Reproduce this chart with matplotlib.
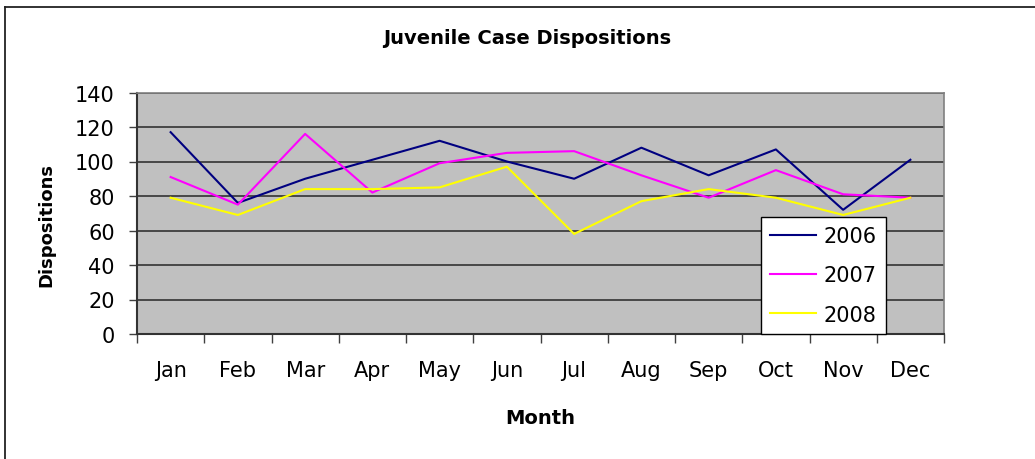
import matplotlib.pyplot as plt
import numpy as np
from matplotlib.lines import Line2D

# data
months = ['Jan', 'Feb', 'Mar', 'Apr', 'May', 'Jun',
          'Jul', 'Aug', 'Sep', 'Oct', 'Nov', 'Dec']
y2006 = [117, 76, 90, 101, 112, 100, 90, 108, 92, 107, 72, 101]
y2007 = [91, 75, 116, 82, 99, 105, 106, 92, 79, 95, 81, 79]
y2008 = [79, 69, 84, 84, 85, 97, 58, 77, 84, 79, 69, 79]

plt.rcParams['font.family'] = ['DejaVu Sans']

fig = plt.figure(figsize=(10.35, 4.6), dpi=100)
ax = fig.add_axes([137/1035, 1 - 335/460, 807/1035, 241.5/460])

x = np.arange(len(months))

# plot the three years
ax.plot(x, y2006, color='#000080', lw=1.5, label='2006')
ax.plot(x, y2007, color='#FF00FF', lw=1.5, label='2007')
ax.plot(x, y2008, color='#FFFF00', lw=1.5, label='2008')

# gray plot area with dark gridlines
ax.set_facecolor('#C0C0C0')
ax.set_xlim(-0.5, 11.5)
ax.set_ylim(0, 140)
ax.set_yticks(np.arange(0, 141, 20))
ax.yaxis.grid(True, color='#333333', lw=1.2)
ax.set_axisbelow(True)

# category boundaries get the ticks, labels sit in between
ax.set_xticks(np.arange(-0.5, 12, 1))
ax.set_xticklabels([])
ax.set_xticks(x, minor=True)
ax.set_xticklabels(months, minor=True)
ax.tick_params(axis='x', which='major', length=6.5, width=1, color='#404040')
ax.tick_params(axis='x', which='minor', length=0, pad=19, labelsize=15)
ax.tick_params(axis='y', length=6, width=1, color='#404040', pad=10, labelsize=15)

for side in ['left', 'bottom']:
    ax.spines[side].set_color('#333333')
    ax.spines[side].set_linewidth(1.5)
for side in ['top', 'right']:
    ax.spines[side].set_color('#808080')
    ax.spines[side].set_linewidth(1.2)

ax.set_title('Juvenile Case Dispositions', fontsize=14, fontweight='bold',
             x=0.483, pad=36)
ax.set_xlabel('Month', fontsize=14, fontweight='bold', labelpad=20)
ax.set_ylabel('Dispositions', fontsize=13, fontweight='bold')
ax.yaxis.set_label_coords(-0.101, 0.455)

leg = ax.legend(loc='lower left', bbox_to_anchor=(0.773, 0), borderaxespad=0,
                fontsize=15, handlelength=2.2, handletextpad=0.35,
                labelspacing=0.92, borderpad=0.45, fancybox=False,
                framealpha=1, edgecolor='black')
leg.get_frame().set_linewidth(1)

# outer chart border (top and left only show in the crop)
fig.add_artist(Line2D([5/1035, 5/1035], [0, 1 - 8/460], color='#222222', lw=1.3,
                      transform=fig.transFigure))
fig.add_artist(Line2D([5/1035, 1], [1 - 8/460, 1 - 8/460], color='#222222', lw=1.3,
                      transform=fig.transFigure))

fig.savefig('out.png', dpi=100)
